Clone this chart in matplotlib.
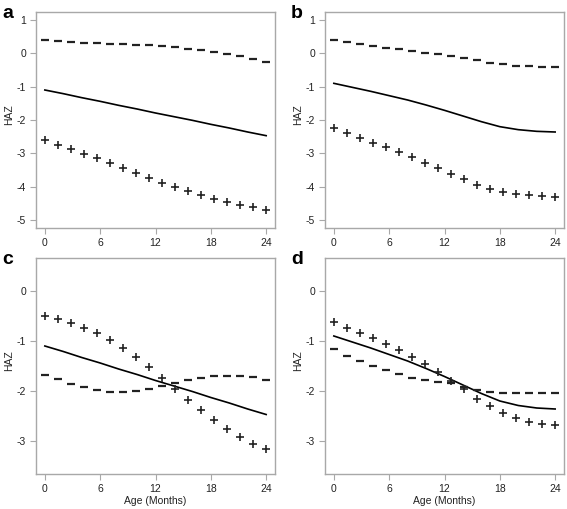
import matplotlib
matplotlib.use('Agg')
import matplotlib.pyplot as plt

plt.rcParams['font.family'] = ['Liberation Sans', 'DejaVu Sans']
plt.rcParams['axes.unicode_minus'] = False

# 18 evenly spaced ages, 0..24 months
age = [0, 1.41, 2.82, 4.24, 5.65, 7.06, 8.47, 9.88, 11.29, 12.71, 14.12,
       15.53, 16.94, 18.35, 19.76, 21.18, 22.59, 24]

# solid line ages
line_age = [0, 2, 4, 6, 8, 10, 12, 14, 16, 18, 20, 22, 24]

# panel a
a_plus = [-2.61, -2.74, -2.87, -3.01, -3.14, -3.29, -3.43, -3.59, -3.73,
          -3.88, -4.01, -4.14, -4.26, -4.37, -4.46, -4.54, -4.62, -4.70]
a_dash = [0.40, 0.38, 0.35, 0.32, 0.30, 0.28, 0.27, 0.26, 0.24,
          0.21, 0.18, 0.14, 0.09, 0.04, -0.02, -0.09, -0.17, -0.25]
a_line = [-1.10, -1.21, -1.33, -1.44, -1.56, -1.67, -1.79, -1.90, -2.01,
          -2.13, -2.24, -2.36, -2.47]

# panel b
b_plus = [-2.24, -2.39, -2.54, -2.68, -2.82, -2.97, -3.12, -3.29, -3.45,
          -3.62, -3.78, -3.94, -4.07, -4.16, -4.22, -4.26, -4.29, -4.30]
b_dash = [0.40, 0.33, 0.27, 0.22, 0.17, 0.12, 0.07, 0.02, -0.03,
          -0.08, -0.14, -0.21, -0.28, -0.33, -0.37, -0.39, -0.40, -0.40]
b_line = [-0.90, -1.02, -1.14, -1.27, -1.40, -1.55, -1.71, -1.88, -2.05,
          -2.20, -2.29, -2.34, -2.36]

# panel c
c_plus = [-0.50, -0.56, -0.64, -0.74, -0.84, -0.97, -1.13, -1.31, -1.52,
          -1.74, -1.96, -2.18, -2.37, -2.57, -2.76, -2.92, -3.05, -3.15]
c_dash = [-1.67, -1.76, -1.86, -1.92, -1.98, -2.02, -2.02, -2.00, -1.95,
          -1.90, -1.83, -1.78, -1.73, -1.70, -1.69, -1.69, -1.71, -1.78]
c_line = a_line

# panel d
d_plus = [-0.62, -0.73, -0.83, -0.94, -1.06, -1.17, -1.31, -1.46, -1.62,
          -1.79, -1.96, -2.15, -2.30, -2.43, -2.53, -2.61, -2.65, -2.67]
d_dash = [-1.16, -1.29, -1.40, -1.49, -1.58, -1.66, -1.73, -1.78, -1.82,
          -1.84, -1.92, -1.98, -2.01, -2.03, -2.04, -2.04, -2.04, -2.04]
d_line = b_line

x_ticks = [0, 6, 12, 18, 24]

W, H = 567, 509
fig = plt.figure(figsize=(W / 100, H / 100), dpi=100)

panels = [
    ('a', 36, 12, a_plus, a_dash, a_line, (-5.24, 1.24), range(-5, 2), False),
    ('b', 325, 12, b_plus, b_dash, b_line, (-5.24, 1.24), range(-5, 2), False),
    ('c', 36, 258, c_plus, c_dash, c_line, (-3.66, 0.66), range(-3, 1), True),
    ('d', 325, 258, d_plus, d_dash, d_line, (-3.66, 0.66), range(-3, 1), True),
]

for letter, left, top, plus, dash, line, ylim, yt, xlab in panels:
    ax = fig.add_axes([left / W, 1 - (top + 216) / H, 239 / W, 216 / H])
    ax.plot(line_age, line, color='black', lw=1.2)
    ax.plot(age, plus, linestyle='none', marker='+', color='#222222',
            markersize=6, markeredgewidth=1.2)
    ax.plot(age, dash, linestyle='none', marker='_', color='#222222',
            markersize=5.5, markeredgewidth=1.6)
    ax.set_xlim(-0.96, 24.96)
    ax.set_ylim(*ylim)
    ax.set_xticks(x_ticks)
    ax.set_yticks(list(yt))
    for s in ax.spines.values():
        s.set_color('#a8a8a8')
        s.set_linewidth(1)
    ax.tick_params(colors='#a8a8a8', labelcolor='#222222', length=4,
                   width=0.8, labelsize=7.5, pad=3)
    # axis titles placed in figure pixels like the original
    fig.text((left - 27) / W, 1 - (top + 103) / H, 'HAZ', fontsize=7.5,
             color='#222222', rotation=90, ha='center', va='center')
    if xlab:
        fig.text((left + 119) / W, 1 - 501 / H, 'Age (Months)', fontsize=7.5,
                 color='#222222', ha='center', va='center')
    fig.text((left - 34) / W, 1 - (top - 7) / H, letter, fontsize=14,
             fontweight='bold', va='top', ha='left')

fig.savefig('out.png', dpi=100)
